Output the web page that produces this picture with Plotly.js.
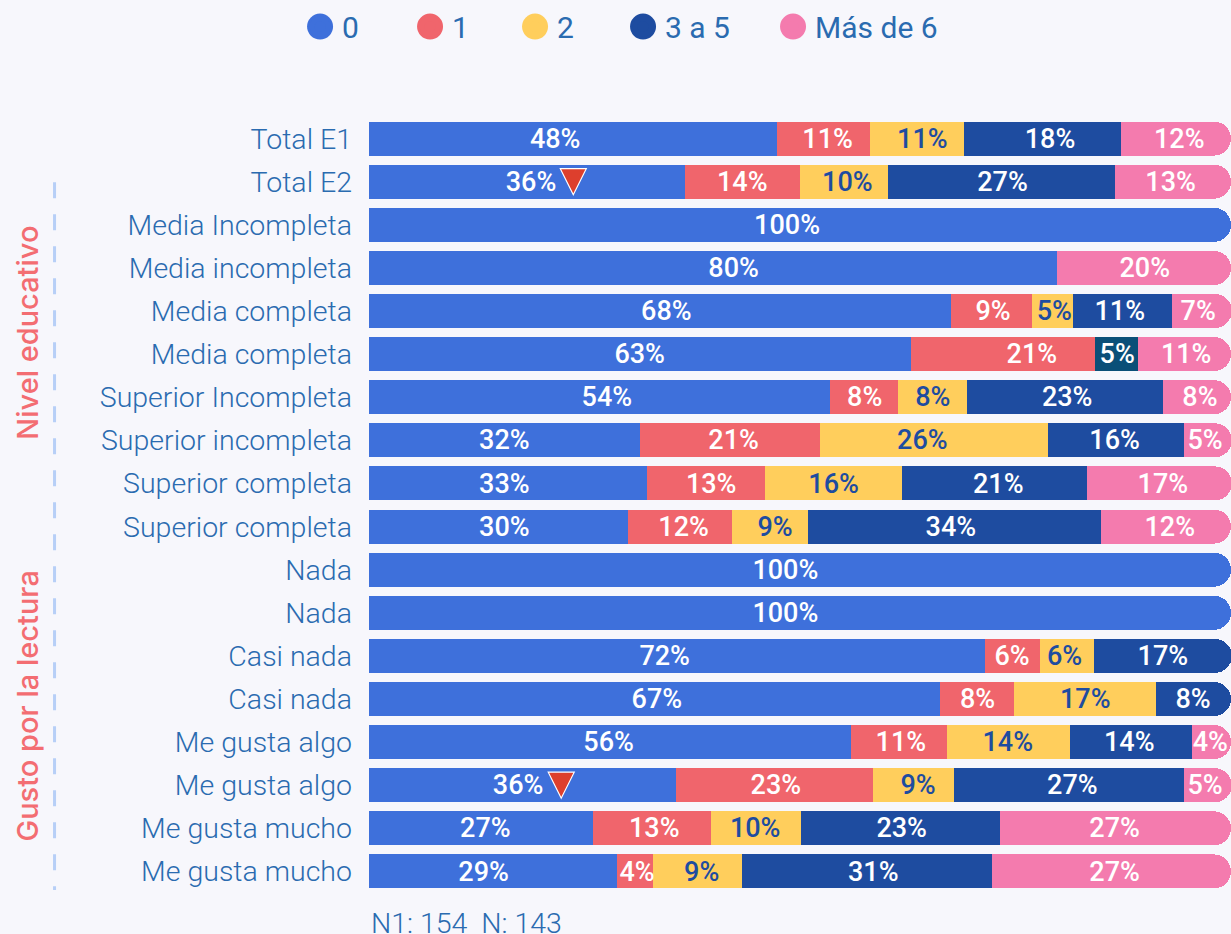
<!DOCTYPE html>
<html><head><meta charset="utf-8">
<script src="https://cdn.plot.ly/plotly-3.0.1.min.js"></script>
<style>html,body{margin:0;padding:0;background:#f7f7fc;overflow:hidden}</style></head>
<body><div id="chart" style="width:1231px;height:934px"></div>
<script>
const categories = ["Total E1","Total E2","Media Incompleta","Media incompleta","Media completa","Media completa","Superior Incompleta","Superior incompleta","Superior completa","Superior completa","Nada","Nada","Casi nada","Casi nada","Me gusta algo","Me gusta algo","Me gusta mucho","Me gusta mucho"];
const rowIndex = categories.map((c,i)=>i);
const seriesNames = ["0","1","2","3 a 5","Más de 6"];
const seriesColors = ["#3e70db","#f0656c","#ffce5c","#1e4ca0","#f47bae"];
const v0 = [47.3,36.7,100,79.8,67.5,62.9,53.5,31.4,32.3,30.0,100,100,71.5,66.2,55.9,35.6,26.0,28.8];
const v1 = [10.8,13.3,null,null,9.4,21.3,7.9,20.9,13.6,12.1,null,null,6.3,8.6,11.1,22.9,13.7,4.1];
const v2 = [10.9,10.2,null,null,4.8,null,8.0,26.5,15.9,8.8,null,null,6.3,16.5,14.3,9.4,10.4,10.4];
const v3 = [18.2,26.3,null,null,11.4,5.0,22.7,15.7,21.5,34.0,null,null,16.0,8.7,14.2,26.7,23.1,29.0];
const v4 = [12.8,13.5,null,20.2,7.0,10.8,7.9,5.6,16.8,15.1,null,null,null,null,4.5,5.5,26.8,27.7];
const t0 = ["48%","36%","100%","80%","68%","63%","54%","32%","33%","30%","100%","100%","72%","67%","56%","36%","27%","29%"];
const t1 = ["11%","14%","","","9%","21%","8%","21%","13%","12%","","","6%","8%","11%","23%","13%","4%"];
const t2 = ["11%","10%","","","5%","","8%","26%","16%","9%","","","6%","17%","14%","9%","10%","9%"];
const t3 = ["18%","27%","","","11%","5%","23%","16%","21%","34%","","","17%","8%","14%","27%","23%","31%"];
const t4 = ["12%","13%","","20%","7%","11%","8%","5%","17%","12%","","","","","4%","5%","27%","27%"];
const lx0 = [21.6,18.8,48.5,42.3,34.5,31.4,27.6,15.7,15.7,15.7,48.3,48.3,34.3,33.4,27.8,17.3,13.5,13.3];
const lx1 = [53.2,43.3,null,null,72.4,76.9,57.5,42.3,39.7,36.5,null,null,74.6,70.6,61.7,47.2,33.1,31.1];
const lx2 = [64.2,55.5,null,null,79.5,null,65.4,64.2,53.9,47.1,null,null,80.7,83.1,74.1,63.7,44.8,38.6];
const lx3 = [79.0,73.5,null,null,87.1,86.8,81.0,86.5,73.0,67.5,null,null,92.1,95.6,88.2,81.6,61.8,58.5];
const lx4 = [94.0,93.0,null,90.0,96.2,94.8,96.4,97.0,92.1,92.9,null,null,null,null,97.6,97.0,86.5,86.5];
const navyColors = categories.map((c,i)=> i===5 ? "#0a4f78" : "#1e4ca0");
const dropRows = [1,15];
const dropX = [23.7,22.3];
const legendX = [-0.0823,0.0453,0.1671,0.2924,0.4664];
const values=[v0,v1,v2,v3,v4], texts=[t0,t1,t2,t3,t4], labelX=[lx0,lx1,lx2,lx3,lx4];
const FONT="Roboto, sans-serif";
const traces = seriesNames.map((n,i)=>({
  type:"bar",orientation:"h",name:n,x:values[i],y:rowIndex,
  marker:{color:i===3?navyColors:seriesColors[i],line:{width:0}},
  hoverinfo:"skip",showlegend:false
}));
seriesNames.forEach((n,i)=>traces.push({type:"scatter",mode:"text",x:labelX[i],y:rowIndex.map(r=>r+0.055),text:texts[i],textposition:"middle center",
  textfont:{family:FONT,size:27,weight:500,color:i===2?"#1e4ca0":"#ffffff"},showlegend:false,hoverinfo:"skip",cliponaxis:false}));
seriesNames.forEach((n,i)=>traces.push({type:"scatter",mode:"markers",name:n,x:[null],y:[null],legend:i?"legend"+(i+1):"legend",
  marker:{symbol:"circle",size:16,color:seriesColors[i],line:{color:seriesColors[i],width:5}}}));
const LEGEND_Y=1.1165;
const layout={
  width:1231,height:934,paper_bgcolor:"#f7f7fc",plot_bgcolor:"#f7f7fc",
  margin:{l:369,r:0,t:114.5,b:40.5},barmode:"stack",bargap:0.21,barcornerradius:17,
  font:{family:FONT,color:"#2a6bb0"},
  xaxis:{range:[0,100],visible:false,fixedrange:true},
  yaxis:{range:[17.5,-0.5],tickmode:"array",tickvals:rowIndex,ticktext:categories,showgrid:false,zeroline:false,showline:false,ticks:"",
    ticklabelstandoff:16,tickfont:{family:FONT,size:28.5,weight:300,color:"#2a6bb0"}},
  shapes:[{type:"line",xref:"paper",yref:"paper",x0:-0.3648,x1:-0.3648,y0:0.916,y1:0.004,line:{color:"#b7cff7",width:3,dash:"16px,16px"}}],
  annotations:[
    {xref:"paper",yref:"paper",x:-0.3956,xanchor:"center",y:0.722,yanchor:"middle",text:"Nivel educativo",textangle:-90,showarrow:false,font:{family:"Inter, sans-serif",size:29,weight:500,color:"#f36d72"}},
    {xref:"paper",yref:"paper",x:-0.3956,xanchor:"center",y:0.2416,yanchor:"middle",text:"Gusto por la lectura",textangle:-90,showarrow:false,font:{family:"Inter, sans-serif",size:29,weight:500,color:"#f36d72"}},
    {xref:"paper",yref:"paper",x:0,xanchor:"left",y:-0.039,yanchor:"middle",text:"N1: 154  N: 143",showarrow:false,font:{family:FONT,size:28.5,weight:300,color:"#2a6bb0"}}
  ]
};
seriesNames.forEach((n,i)=>{
  layout[i?"legend"+(i+1):"legend"]={x:legendX[i],xanchor:"left",y:LEGEND_Y,yanchor:"middle",itemwidth:34,font:{family:FONT,size:30,weight:400,color:"#2a6bb0"},bgcolor:"rgba(0,0,0,0)"};
  layout.shapes.push({type:"circle",xref:"paper",yref:"paper",xsizemode:"pixel",ysizemode:"pixel",xanchor:legendX[i]+22/862,yanchor:LEGEND_Y,x0:-13,x1:13,y0:-13,y1:13,fillcolor:seriesColors[i],line:{width:0}});
});
dropX.forEach((x,i)=>layout.shapes.push({type:"path",xref:"x",yref:"y",xsizemode:"pixel",ysizemode:"pixel",xanchor:x,yanchor:dropRows[i],
  path:"M-13,13 L13,13 L0,-13 Z",fillcolor:"#dd3f2d",line:{color:"#ffffff",width:1.2},layer:"above"}));
Plotly.newPlot("chart",traces,layout,{displayModeBar:false,staticPlot:true});
</script></body></html>
